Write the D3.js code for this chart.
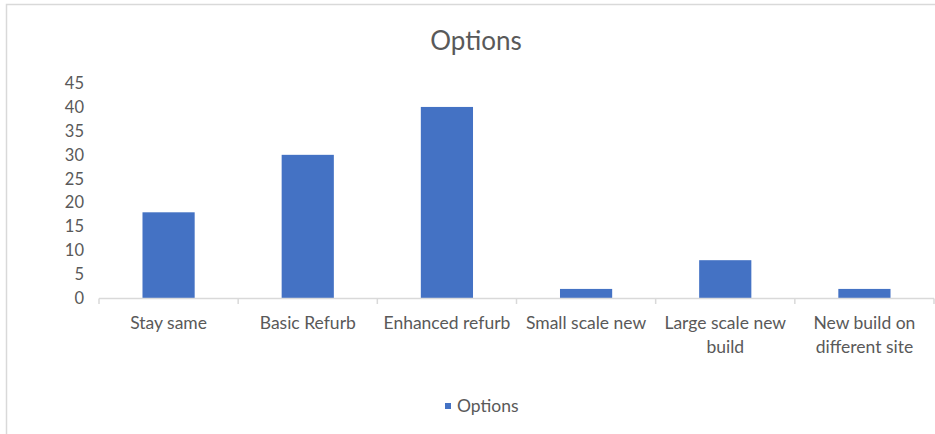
<!DOCTYPE html>
<html>
<head>
<meta charset="utf-8">
<script src="https://cdn.jsdelivr.net/npm/d3@7"></script>
<style>
    body { margin: 0; background: #fff; }
    text { font-family: Lato, "Open Sans", sans-serif; fill: #595959; }
</style>
</head>
<body>
<div id="chart"></div>
<script>
const categories = ["Stay same", "Basic Refurb", "Enhanced refurb", "Small scale new", "Large scale new build", "New build on different site"];
const categoryLines = [["Stay same"], ["Basic Refurb"], ["Enhanced refurb"], ["Small scale new"], ["Large scale new", "build"], ["New build on", "different site"]];
const values = [18, 30, 40, 2, 8, 2];
const yTicks = [0, 5, 10, 15, 20, 25, 30, 35, 40, 45];
const seriesName = "Options";

const width = 935;
const height = 434;

const svg = d3.select("#chart")
    .append("svg")
    .attr("width", width)
    .attr("height", height);

// chart frame (top + left edge visible)
svg.append("path")
    .attr("d", `M6.5,${height} V4.5 H${width}`)
    .attr("fill", "none")
    .attr("stroke", "#d9d9d9")
    .attr("stroke-width", 1.5);

const x = d3.scaleBand()
    .domain(categories)
    .range([99, 934])
    .paddingInner(0.625)
    .paddingOuter(0.3125);

const y = d3.scaleLinear()
    .domain([0, 45])
    .range([298.5, 83]);

// title
svg.append("text")
    .attr("x", 476)
    .attr("y", 50)
    .attr("text-anchor", "middle")
    .attr("font-size", "26px")
    .text(seriesName);

// y tick labels
svg.selectAll(".ylab")
    .data(yTicks)
    .join("text")
    .attr("x", 84)
    .attr("y", d => y(d))
    .attr("dy", "0.35em")
    .attr("text-anchor", "end")
    .attr("font-size", "16.5px")
    .text(d => d);

// bars
svg.selectAll(".bar")
    .data(values)
    .join("rect")
    .attr("x", (d, i) => x(categories[i]))
    .attr("y", d => y(d))
    .attr("width", x.bandwidth())
    .attr("height", d => y(0) - y(d))
    .attr("fill", "#4472c4");

// x axis line and category ticks
const step = x.step();
svg.append("line")
    .attr("x1", 99).attr("x2", 934)
    .attr("y1", 298.5).attr("y2", 298.5)
    .attr("stroke", "#d9d9d9")
    .attr("stroke-width", 1.5);

svg.selectAll(".xtick")
    .data(d3.range(categories.length + 1))
    .join("line")
    .attr("x1", i => 99 + i * step)
    .attr("x2", i => 99 + i * step)
    .attr("y1", 298.5)
    .attr("y2", 304)
    .attr("stroke", "#d9d9d9")
    .attr("stroke-width", 1.5);

// category labels
const labels = svg.selectAll(".xlab")
    .data(categoryLines)
    .join("text")
    .attr("text-anchor", "middle")
    .attr("font-size", "17.5px")
    .attr("y", 329);

labels.selectAll("tspan")
    .data((d, i) => d.map(t => ({ t, i })))
    .join("tspan")
    .attr("x", d => x(categories[d.i]) + x.bandwidth() / 2)
    .attr("dy", (d, j) => j === 0 ? 0 : 24)
    .text(d => d.t);

// legend
svg.append("rect")
    .attr("x", 445)
    .attr("y", 403)
    .attr("width", 6)
    .attr("height", 6)
    .attr("fill", "#4472c4");

svg.append("text")
    .attr("x", 457)
    .attr("y", 412)
    .attr("font-size", "17.5px")
    .text(seriesName);
</script>
</body>
</html>
